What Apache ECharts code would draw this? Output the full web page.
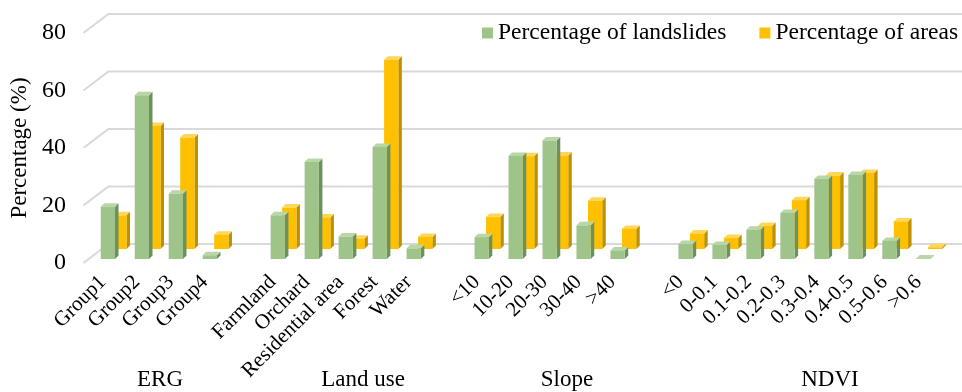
<!DOCTYPE html>
<html>
<head>
<meta charset="utf-8">
<script src="https://cdn.jsdelivr.net/npm/echarts@6/dist/echarts.min.js"></script>
<style>
  html, body { margin: 0; padding: 0; background: #fff; }
  #chart { width: 962px; height: 392px; }
</style>
</head>
<body>
<div id="chart"></div>
<script>
// Factor classes (empty strings leave a gap between factor groups)
const categories = [
  'Group1', 'Group2', 'Group3', 'Group4', '',
  'Farmland', 'Orchard', 'Residential area', 'Forest', 'Water', '',
  '<10', '10-20', '20-30', '30-40', '>40', '',
  '<0', '0-0.1', '0.1-0.2', '0.2-0.3', '0.3-0.4', '0.4-0.5', '0.5-0.6', '>0.6'
];

// Percentage of landslides in each class (%)
const landslides = [
  18.2, 57, 22.7, 1.3, null,
  15.2, 33.7, 7.8, 39, 3.7, null,
  7.6, 35.8, 41.2, 11.7, 3.0, null,
  5.2, 4.9, 10.2, 16.0, 27.8, 29.2, 6.3, 0.2
];

// Percentage of area in each class (%)
const areas = [
  11.7, 42.8, 38.8, 5.0, null,
  14.4, 11.0, 3.6, 65.8, 4.2, null,
  11.1, 32.3, 32.5, 16.8, 7.0, null,
  5.4, 3.8, 8.0, 17.0, 25.6, 26.4, 9.6, 0.6
];

const yTicks = [0, 20, 40, 60, 80];
const groupNames = ['ERG', 'Land use', 'Slope', 'NDVI'];
const groupLabelX = [160, 363, 567, 830];

const FONT = '"Liberation Serif", "Times New Roman", serif';

// Extruded column: front face, shaded side and lit top
function columnRenderer(front, side, top, offX, offY) {
  return function (params, api) {
    const idx = api.value(0);
    const v = api.value(1);
    const p = api.coord([idx, v]);
    const b = api.coord([idx, 0]);
    const w = api.size([1, 0])[0] * 0.42;
    const x0 = p[0] - w / 2 + offX;
    const x1 = x0 + w;
    const yt = p[1] + offY;
    const yb = b[1] + offY;
    const dx = 3.5, dy = -3.5;
    return {
      type: 'group',
      children: [
        { type: 'polygon', shape: { points: [[x1, yb], [x1 + dx, yb + dy], [x1 + dx, yt + dy], [x1, yt]] }, style: { fill: side } },
        { type: 'polygon', shape: { points: [[x0, yt], [x0 + dx, yt + dy], [x1 + dx, yt + dy], [x1, yt]] }, style: { fill: top } },
        { type: 'rect', shape: { x: x0, y: yt, width: w, height: Math.max(yb - yt, 0) }, style: { fill: front } }
      ]
    };
  };
}

function toPoints(values) {
  const out = [];
  values.forEach((v, i) => { if (v !== null) out.push([i, v]); });
  return out;
}

const chart = echarts.init(document.getElementById('chart'), null, { renderer: 'canvas' });

chart.setOption({
  animation: false,
  backgroundColor: '#fff',
  grid: { left: 80.4, right: 26.6, top: 33, bottom: 129 },
  legend: {
    data: ['Percentage of landslides', 'Percentage of areas'],
    left: 482, top: 21,
    padding: 0,
    icon: 'rect',
    itemWidth: 11, itemHeight: 11, itemGap: 33,
    textStyle: { fontFamily: FONT, fontSize: 23.5, color: '#000' }
  },
  xAxis: {
    type: 'category',
    data: categories,
    axisLine: { show: false },
    axisTick: { show: false },
    axisLabel: { interval: 0, rotate: 45, margin: 16, fontFamily: FONT, fontSize: 21, color: '#000' }
  },
  yAxis: {
    type: 'value',
    min: 0, max: 80, interval: 20,
    name: 'Percentage (%)',
    nameLocation: 'middle',
    nameGap: 44,
    nameTextStyle: { fontFamily: FONT, fontSize: 23, color: '#000' },
    axisLine: { show: false },
    axisTick: { show: false },
    splitLine: { show: false },
    axisLabel: { margin: 20, fontFamily: FONT, fontSize: 24, color: '#000' }
  },
  graphic: groupNames.map((name, i) => ({
    type: 'text',
    x: groupLabelX[i], y: 380,
    style: { text: name, fontFamily: FONT, fontSize: 23, fill: '#000', align: 'center', verticalAlign: 'middle' }
  })),
  series: [
    {
      // side wall and back wall gridlines
      type: 'custom',
      silent: true,
      z: 1,
      data: yTicks.map(t => [0, t]),
      renderItem: function (params, api) {
        const cs = params.coordSys;
        const y = api.coord([0, api.value(1)])[1];
        return {
          type: 'polyline',
          shape: { points: [[cs.x - 2.5, y], [cs.x + 22.5, y - 19], [962, y - 19]] },
          style: { stroke: '#d9d9d9', lineWidth: 2, fill: null }
        };
      }
    },
    {
      name: 'Percentage of areas',
      type: 'custom',
      z: 2,
      itemStyle: { color: '#FFC000' },
      data: toPoints(areas),
      renderItem: columnRenderer('#FFC000', '#BF9000', '#FFD659', 16.5, -14)
    },
    {
      name: 'Percentage of landslides',
      type: 'custom',
      z: 3,
      itemStyle: { color: '#9FC48A' },
      data: toPoints(landslides),
      renderItem: columnRenderer('#9FC48A', '#6E905E', '#B9D6A6', 5, -4)
    }
  ]
});
</script>
</body>
</html>
